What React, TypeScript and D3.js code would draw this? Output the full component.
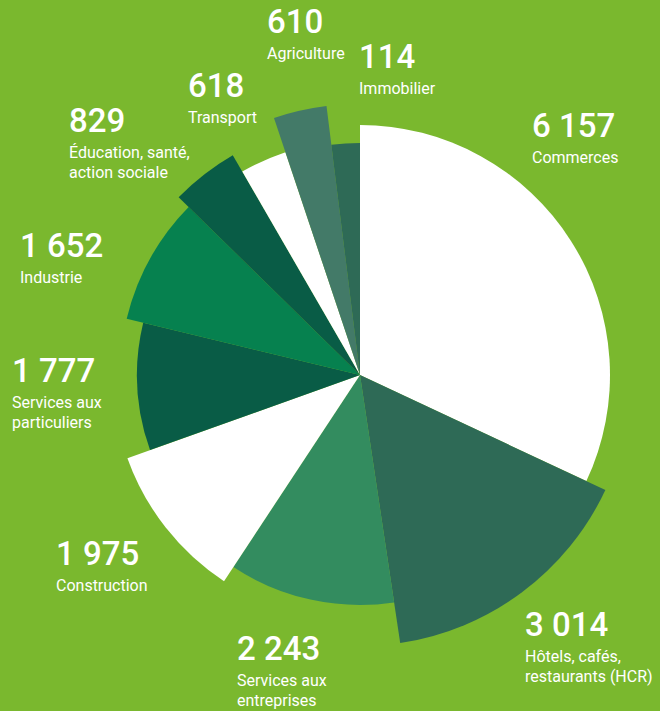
import React from "react";
import * as d3 from "d3";

// ---- Data ----
const categories = [
  "Commerces",
  "Hôtels, cafés, restaurants (HCR)",
  "Services aux entreprises",
  "Construction",
  "Services aux particuliers",
  "Industrie",
  "Éducation, santé, action sociale",
  "Transport",
  "Agriculture",
  "Immobilier",
];
const values = [6157, 3014, 2243, 1975, 1777, 1652, 829, 618, 610, 114];
const labelLines = [
  ["Commerces"],
  ["Hôtels, cafés,", "restaurants (HCR)"],
  ["Services aux", "entreprises"],
  ["Construction"],
  ["Services aux", "particuliers"],
  ["Industrie"],
  ["Éducation, santé,", "action sociale"],
  ["Transport"],
  ["Agriculture"],
  ["Immobilier"],
];

// ---- Styles / layout ----
const W = 660;
const H = 711;
const BG = "#7ab82e";
const colors = [
  "#ffffff",
  "#2e6a56",
  "#338c5f",
  "#ffffff",
  "#095c46",
  "#06814f",
  "#095c46",
  "#ffffff",
  "#437a68",
  "#2e6a56",
];
const radii = [250, 271, 230, 247, 223, 240, 254, 235, 271, 232];
const labelPos: [number, number][] = [
  [532, 137],
  [525, 636],
  [237, 660],
  [56, 565],
  [12, 382],
  [20, 257],
  [69, 132],
  [188, 97],
  [267, 33],
  [359, 68],
];
const CX = 360;
const CY = 375;
const MIN_SHARE = 0.02;

const fmt = (v: number) =>
  d3.format(",")(v).replace(/,/g, " ");

export default function App() {
  const total = d3.sum(values);
  const pie = d3
    .pie<number>()
    .sort(null)
    .value((v) => Math.max(v, total * MIN_SHARE))
    .startAngle(0)
    .endAngle(2 * Math.PI);
  const arcs = pie(values);
  const arcGen = d3.arc<d3.PieArcDatum<number>>().innerRadius(0);

  return (
    <svg
      width={W}
      height={H}
      style={{ position: "absolute", left: 0, top: 0, display: "block" }}
      fontFamily="Roboto, 'Open Sans', sans-serif"
    >
      <rect x={0} y={0} width={W} height={H} fill={BG} />
      <g transform={`translate(${CX},${CY})`}>
        {arcs.map((a, i) => (
          <path
            key={categories[i]}
            d={arcGen.outerRadius(radii[i])(a) || ""}
            fill={colors[i]}
          />
        ))}
      </g>
      {values.map((v, i) => {
        const [x, y] = labelPos[i];
        return (
          <g key={"l" + i} fill="#ffffff">
            <text x={x} y={y} fontSize={33} fontWeight={500}>
              {fmt(v)}
            </text>
            {labelLines[i].map((line, j) => (
              <text key={j} x={x} y={y + 26 + j * 20} fontSize={16}>
                {line}
              </text>
            ))}
          </g>
        );
      })}
    </svg>
  );
}
